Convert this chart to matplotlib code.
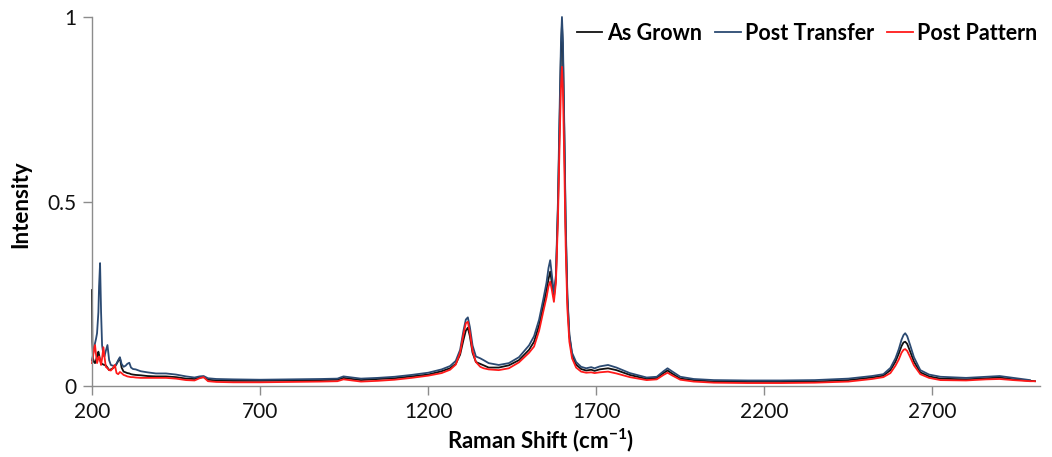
import matplotlib
matplotlib.use("Agg")
import matplotlib.pyplot as plt

plt.rcParams["font.family"] = ["Lato", "DejaVu Sans"]
plt.rcParams["mathtext.fontset"] = "custom"
plt.rcParams["mathtext.rm"] = "Lato"
plt.rcParams["mathtext.bf"] = "Lato:bold"

# Raman shift grid (cm^-1) and normalised intensities for the three samples
shift = [
    200, 201, 203, 206, 209, 212, 215, 219, 221, 224, 227, 230, 234, 237, 241,
    246, 251, 256, 262, 268, 273, 278, 283, 288, 294, 300, 305, 311, 316, 322,
    330, 345, 365, 390, 420, 450, 480, 505, 520, 532, 545, 570, 620, 700, 800,
    880, 930, 948, 965, 1000, 1050, 1100, 1150, 1200, 1240, 1265, 1282, 1295,
    1305, 1312, 1318, 1324, 1332, 1342, 1355, 1365, 1380, 1410, 1440, 1470,
    1500, 1515, 1530, 1542, 1552, 1558, 1563, 1568, 1574, 1580, 1586, 1591,
    1595, 1598, 1601, 1605, 1609, 1614, 1620, 1628, 1640, 1655, 1670, 1685,
    1695, 1710, 1735, 1760, 1800, 1850, 1880, 1900, 1912, 1925, 1950, 1990,
    2050, 2150, 2250, 2350, 2450, 2520, 2554, 2575, 2590, 2600, 2608, 2614,
    2619, 2625, 2634, 2645, 2664, 2690, 2724, 2800, 2860, 2900, 2940, 2990,
    3005,
]

as_grown = [
    0.26, 0.12, 0.075, 0.065, 0.062, 0.07, 0.08, 0.093, 0.085, 0.07, 0.062,
    0.06, 0.058, 0.057, 0.056, 0.05, 0.043, 0.045, 0.048, 0.052, 0.06, 0.068,
    0.076, 0.05, 0.039, 0.037, 0.035, 0.034, 0.032, 0.031, 0.03, 0.029, 0.027,
    0.026, 0.026, 0.024, 0.02, 0.019, 0.023, 0.024, 0.017, 0.015, 0.014, 0.014,
    0.015, 0.016, 0.017, 0.022, 0.02, 0.016, 0.019, 0.021, 0.026, 0.031, 0.04,
    0.048, 0.06, 0.085, 0.125, 0.15, 0.158, 0.135, 0.09, 0.065, 0.06, 0.056,
    0.05, 0.05, 0.056, 0.07, 0.098, 0.12, 0.165, 0.215, 0.26, 0.29, 0.31,
    0.28, 0.24, 0.29, 0.48, 0.72, 0.9, 0.98, 0.9, 0.68, 0.43, 0.24, 0.135,
    0.085, 0.058, 0.046, 0.042, 0.044, 0.041, 0.045, 0.048, 0.043, 0.03,
    0.019, 0.022, 0.035, 0.042, 0.034, 0.02, 0.016, 0.012, 0.011, 0.011,
    0.012, 0.016, 0.023, 0.028, 0.043, 0.066, 0.088, 0.108, 0.118, 0.12,
    0.114, 0.093, 0.066, 0.037, 0.026, 0.02, 0.018, 0.021, 0.023, 0.018,
    0.014, 0.013,
]

post_transfer = [
    0.07, 0.075, 0.085, 0.1, 0.116, 0.128, 0.143, 0.2, 0.27, 0.333, 0.2, 0.11,
    0.085, 0.08, 0.095, 0.111, 0.07, 0.057, 0.055, 0.055, 0.06, 0.07, 0.078,
    0.06, 0.052, 0.055, 0.06, 0.063, 0.05, 0.046, 0.045, 0.04, 0.037, 0.034,
    0.034, 0.031, 0.026, 0.023, 0.026, 0.027, 0.021, 0.019, 0.018, 0.017,
    0.018, 0.019, 0.02, 0.026, 0.024, 0.02, 0.022, 0.025, 0.03, 0.036, 0.045,
    0.054, 0.068, 0.098, 0.15, 0.18, 0.186, 0.16, 0.11, 0.08, 0.075, 0.07,
    0.062, 0.057, 0.062, 0.078, 0.11, 0.135, 0.18, 0.233, 0.28, 0.32, 0.341,
    0.3, 0.252, 0.3, 0.5, 0.75, 0.93, 1.0, 0.93, 0.7, 0.45, 0.25, 0.14, 0.09,
    0.065, 0.052, 0.048, 0.051, 0.048, 0.053, 0.057, 0.05, 0.035, 0.023,
    0.025, 0.04, 0.048, 0.04, 0.025, 0.019, 0.016, 0.015, 0.015, 0.016, 0.02,
    0.027, 0.032, 0.049, 0.075, 0.1, 0.125, 0.138, 0.143, 0.135, 0.11, 0.078,
    0.043, 0.031, 0.025, 0.022, 0.025, 0.027, 0.022, 0.016, None,
]

post_pattern = [
    0.062, 0.07, 0.079, 0.1, 0.111, 0.085, 0.062, 0.075, 0.08, 0.07, 0.057,
    0.075, 0.105, 0.08, 0.052, 0.048, 0.043, 0.042, 0.048, 0.057, 0.035,
    0.032, 0.038, 0.035, 0.03, 0.028, 0.026, 0.025, 0.024, 0.024, 0.023,
    0.022, 0.022, 0.022, 0.022, 0.02, 0.016, 0.015, 0.021, 0.024, 0.013,
    0.011, 0.01, 0.01, 0.011, 0.012, 0.013, 0.018, 0.016, 0.012, 0.014,
    0.017, 0.022, 0.028, 0.035, 0.044, 0.058, 0.09, 0.14, 0.17, 0.174, 0.145,
    0.095, 0.065, 0.052, 0.048, 0.045, 0.043, 0.048, 0.064, 0.09, 0.107, 0.15,
    0.2, 0.24, 0.27, 0.283, 0.26, 0.228, 0.28, 0.45, 0.66, 0.81, 0.865, 0.8,
    0.6, 0.38, 0.21, 0.12, 0.075, 0.05, 0.039, 0.036, 0.037, 0.035, 0.037,
    0.039, 0.034, 0.024, 0.016, 0.018, 0.03, 0.036, 0.029, 0.017, 0.012,
    0.009, 0.008, 0.008, 0.009, 0.012, 0.019, 0.024, 0.035, 0.055, 0.072,
    0.09, 0.098, 0.1, 0.095, 0.078, 0.056, 0.032, 0.022, 0.016, 0.015, 0.018,
    0.019, 0.016, 0.013, 0.013,
]

labels = ["As Grown", "Post Transfer", "Post Pattern"]
colors = ["#111111", "#2b4a72", "#ff1a1a"]


def _trim(x, y):
    """Drop grid points where a spectrum has no reading."""
    pairs = [(a, b) for a, b in zip(x, y) if b is not None]
    return [p[0] for p in pairs], [p[1] for p in pairs]


fig = plt.figure(figsize=(10.52, 4.57), dpi=100)
ax = fig.add_axes([92 / 1052, 71 / 457, (1040 - 92) / 1052, (386 - 17) / 457])

for series, label, color in zip([as_grown, post_transfer, post_pattern], labels, colors):
    xs, ys = _trim(shift, series)
    ax.plot(xs, ys, color=color, lw=1.3, label=label, clip_on=False)

ax.set_xlim(200, 3020)
ax.set_ylim(0, 1)
ax.set_xticks([200, 700, 1200, 1700, 2200, 2700])
ax.set_yticks([0, 0.5, 1])
ax.set_yticklabels(["0", "0.5", "1"])

for side in ("top", "right"):
    ax.spines[side].set_visible(False)
for side in ("left", "bottom"):
    ax.spines[side].set_color("#8c8c8c")
    ax.spines[side].set_linewidth(1.0)
ax.tick_params(axis="both", direction="out", length=6.5, width=1.0,
               color="#8c8c8c", labelsize=15, labelcolor="#111111", pad=5)

ax.set_xlabel(r"Raman Shift (cm$^{\mathbf{-1}}$)", fontsize=16, fontweight="bold",
              va="center")
ax.xaxis.set_label_coords((541 - 92) / (1040 - 92), -(440 - 386) / (386 - 17))
ax.set_ylabel("Intensity", fontsize=16, fontweight="bold", va="center")
ax.yaxis.set_label_coords(-(92 - 21) / (1040 - 92), (386 - 204) / (386 - 17))

ax.legend(loc="center right", bbox_to_anchor=(1048 / 1052, 1 - 33 / 457),
          bbox_transform=fig.transFigure, ncol=3, frameon=False,
          prop={"size": 15.5, "weight": "bold"}, handlelength=1.2,
          handletextpad=0.2, columnspacing=0.6, borderpad=0)

fig.savefig("out.png", dpi=100)
